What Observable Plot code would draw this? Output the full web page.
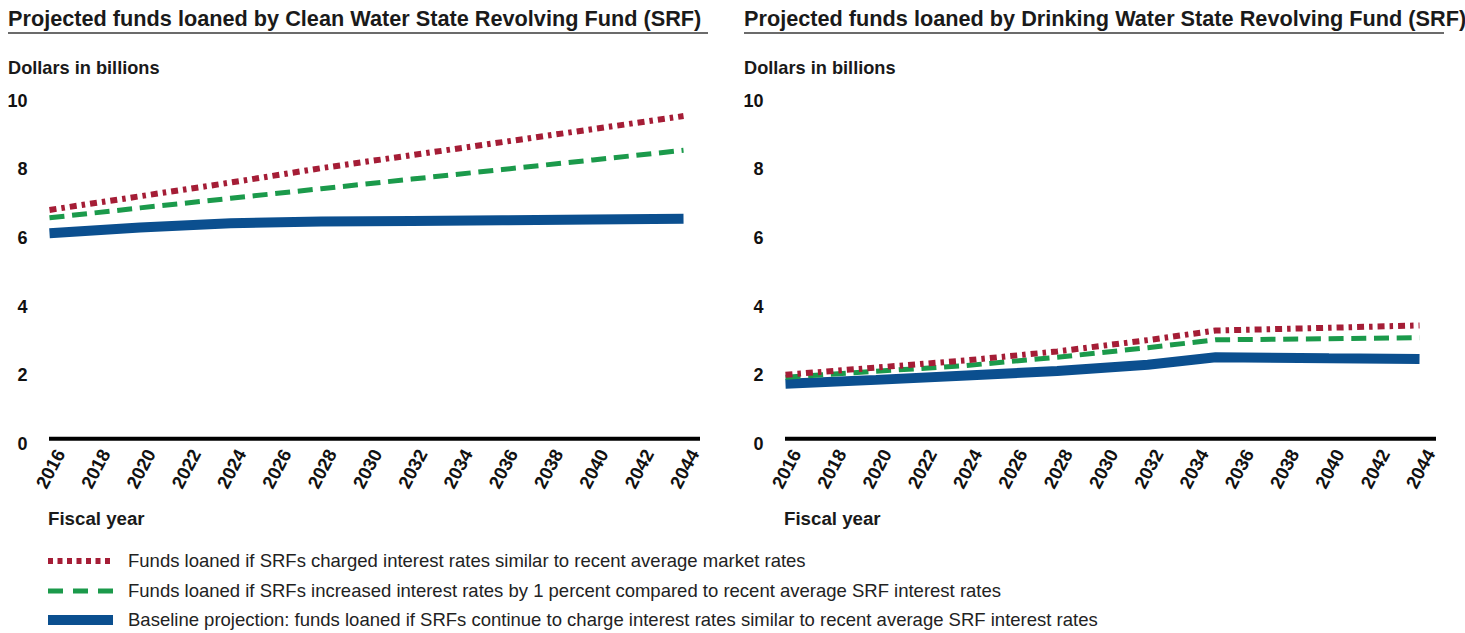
<!DOCTYPE html>
<html>
<head>
<meta charset="utf-8">
<script src="https://cdn.jsdelivr.net/npm/d3@7"></script>
<script src="https://cdn.jsdelivr.net/npm/@observablehq/plot@0.6"></script>
<style>
  html, body { margin: 0; padding: 0; background: #fff; }
  body { font-family: "Liberation Sans", Arial, Helvetica, sans-serif; color: #1a1a1a; }
  #root { position: relative; width: 1465px; height: 633px; overflow: hidden; }
  .abs { position: absolute; white-space: nowrap; line-height: 1; }
  .title { font-weight: bold; font-size: 21.7px; }
  .rule { position: absolute; height: 0; border-top: 2px solid #6b6b6b; }
  .ylab { font-weight: bold; font-size: 18.2px; }
  .xlab { font-weight: bold; font-size: 18.7px; }
  .leg { font-size: 18.5px; color: #222; }
  .panel { position: absolute; top: 0; }
  svg.sw { position: absolute; overflow: visible; }
</style>
</head>
<body>
<div id="root"></div>
<script>
// ---------- data ----------
const seriesNames = ["market", "plus1", "baseline"];
const legendLabels = [
  "Funds loaned if SRFs charged interest rates similar to recent average market rates",
  "Funds loaned if SRFs increased interest rates by 1 percent compared to recent average SRF interest rates",
  "Baseline projection: funds loaned if SRFs continue to charge interest rates similar to recent average SRF interest rates"
];
const panelTitles = [
  "Projected funds loaned by Clean Water State Revolving Fund (SRF)",
  "Projected funds loaned by Drinking Water State Revolving Fund (SRF)"
];
const yAxisLabel = "Dollars in billions";
const xAxisLabel = "Fiscal year";
const xTicks = [2016, 2018, 2020, 2022, 2024, 2026, 2028, 2030, 2032, 2034, 2036, 2038, 2040, 2042, 2044];
const yTicks = [0, 2, 4, 6, 8, 10];

// Clean Water SRF
const cwYears    = [2016, 2020, 2024, 2028, 2032, 2036, 2040, 2044];
const cwMarket   = [6.68, 7.08, 7.48, 7.90, 8.28, 8.66, 9.04, 9.42];
const cwPlus1    = [6.45, 6.74, 7.02, 7.30, 7.58, 7.86, 8.14, 8.42];
const cwBaseline = [6.00, 6.17, 6.29, 6.34, 6.36, 6.38, 6.40, 6.42];

// Drinking Water SRF
const dwYears    = [2016, 2020, 2024, 2028, 2032, 2035, 2040, 2044];
const dwMarket   = [1.87, 2.08, 2.29, 2.55, 2.88, 3.16, 3.24, 3.31];
const dwPlus1    = [1.80, 1.97, 2.14, 2.38, 2.66, 2.89, 2.92, 2.95];
const dwBaseline = [1.61, 1.72, 1.85, 1.98, 2.16, 2.38, 2.35, 2.33];

// ---------- styles ----------
const styles = {
  market:   {stroke: "#a51d36", strokeWidth: 6,  strokeDasharray: "7,5,3.5,5"},
  plus1:    {stroke: "#1b9a4b", strokeWidth: 5,  strokeDasharray: "15,7.7"},
  baseline: {stroke: "#0b4f8f", strokeWidth: 10, strokeDasharray: null}
};

function tidy(years, arrs) {
  const rows = [];
  seriesNames.forEach((s, i) => years.forEach((yr, j) => rows.push({series: s, year: yr, value: arrs[i][j]})));
  return rows;
}
const cwData = tidy(cwYears, [cwMarket, cwPlus1, cwBaseline]);
const dwData = tidy(dwYears, [dwMarket, dwPlus1, dwBaseline]);

const root = document.getElementById("root");
function addDiv(cls, text, left, top) {
  const d = document.createElement("div");
  d.className = "abs " + cls;
  d.textContent = text;
  d.style.left = left + "px";
  d.style.top = top + "px";
  root.appendChild(d);
  return d;
}

function makePanel(data, offsetX, title) {
  const W = 730, H = 540;
  const chart = Plot.plot({
    width: W, height: H,
    marginTop: 95.7, marginBottom: H - 438.3, marginLeft: 49, marginRight: 30,
    x: {domain: [2016, 2044.75]},
    y: {domain: [0, 10]},
    style: {fontFamily: '"Liberation Sans", Arial, sans-serif', fontSize: "18px", fontWeight: "bold", color: "#111", background: "transparent", overflow: "visible"},
    marks: [
      Plot.axisY(yTicks, {tickSize: 0, tickPadding: 22, dy: 5, label: null, tickFormat: d => String(d)}),
      Plot.axisX(xTicks, {tickSize: 0, tickRotate: -62, tickPadding: 12, dx: 11, fontSize: 18.5, label: null, tickFormat: d => String(d)}),
      Plot.ruleY([0], {stroke: "#000", strokeWidth: 4}),
      ...["baseline", "plus1", "market"].map(s =>
        Plot.line(data.filter(d => d.series === s), {x: "year", y: "value", ...styles[s], strokeLinejoin: "miter", strokeLinecap: "butt"})
      )
    ]
  });
  chart.classList.add("panel");
  chart.style.left = offsetX + "px";
  root.appendChild(chart);
  addDiv("title", title, offsetX + 8, 7.7);
  const r = document.createElement("div");
  r.className = "rule";
  r.style.left = (offsetX + 8) + "px";
  r.style.top = "32px";
  r.style.width = "700px";
  root.appendChild(r);
  addDiv("ylab", yAxisLabel, offsetX + 8, 58.5);
  addDiv("xlab", xAxisLabel, offsetX + 48, 509.5);
}

makePanel(cwData, 0, panelTitles[0]);
makePanel(dwData, 736, panelTitles[1]);

// ---------- legend ----------
const legY = [561, 591, 620];
seriesNames.forEach((s, i) => {
  const ns = "http://www.w3.org/2000/svg";
  const svg = document.createElementNS(ns, "svg");
  svg.setAttribute("class", "sw");
  svg.setAttribute("width", 66);
  svg.setAttribute("height", 14);
  svg.style.left = "48px";
  svg.style.top = (legY[i] - 7) + "px";
  const ln = document.createElementNS(ns, "line");
  ln.setAttribute("x1", 0); ln.setAttribute("x2", 65);
  ln.setAttribute("y1", 7); ln.setAttribute("y2", 7);
  ln.setAttribute("stroke", styles[s].stroke);
  ln.setAttribute("stroke-width", styles[s].strokeWidth);
  if (s === "market") ln.setAttribute("stroke-dasharray", "5,4.5");
  if (s === "plus1") ln.setAttribute("stroke-dasharray", "15,10");
  svg.appendChild(ln);
  root.appendChild(svg);
  addDiv("leg", legendLabels[i], 128, legY[i] + 6.6 - 0.8465 * 18.5);
});
</script>
</body>
</html>
